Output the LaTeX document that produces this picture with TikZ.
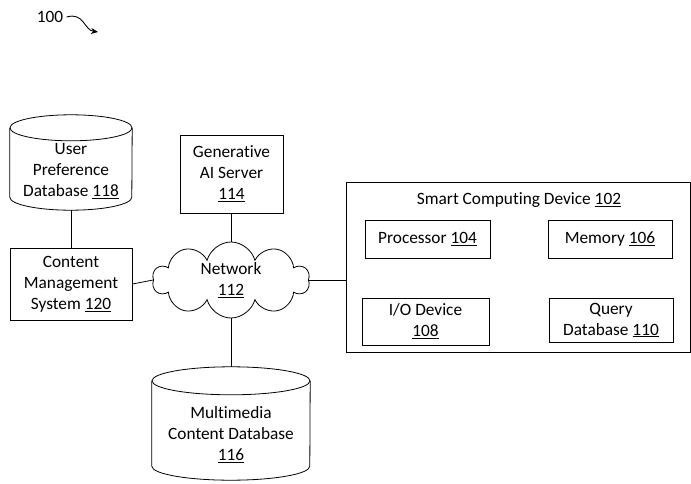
\documentclass[tikz,border=0pt]{standalone}
\usepackage{fontspec}
\setmainfont{Carlito}[Ligatures=NoCommon]
\usepackage{tikz}
\usetikzlibrary{positioning,shapes.geometric,shapes.symbols,arrows.meta}

\begin{document}
\begin{tikzpicture}[x=1pt, y=-1pt,
  every node/.style = {align=center, font=\fontsize{17.3}{21}\selectfont},
  box/.style = {shape=rectangle, draw, line width=0.8pt},
  db/.style = {shape=rectangle, inner sep=0pt},
  wire/.style = {draw, line width=0.8pt}]
    \useasboundingbox (0,0) rectangle (691,484);
    \node (fig) at (50,17) {100};
    \coordinate (figtip) at (98,32);
    \draw[line width=0.9pt, -{Stealth[length=7pt,width=6pt]}] (fig.east) .. controls (84,12) and (84,30) .. (figtip);
    % left column
    \node[db, minimum width=122pt, minimum height=95pt] (updb) at (71,162.5) {};
    \draw[line width=0.8pt] ([yshift=-13pt]updb.north) ellipse [x radius=61pt, y radius=13pt];
    \draw[line width=0.8pt] ([yshift=-13pt]updb.north west) -- ([yshift=13pt]updb.south west) arc [start angle=180, end angle=360, x radius=61pt, y radius=13pt] -- ([yshift=-13pt]updb.north east);
    \node (updbtext) at (71,171) {User\\ Preference\\ Database \underline{118}};
    \node[box, minimum width=122pt, minimum height=72pt] (cms) at (71,284) {Content\\ Management\\ System \underline{120}};
    % middle column
    \node[box, minimum width=103pt, minimum height=78pt] (gen) at (231.5,174) {Generative\\ AI Server\\ \underline{114}};
    \node[cloud, draw, line width=0.8pt, cloud puffs=10, aspect=2, minimum width=157pt, minimum height=76pt, inner sep=0pt] (net) at (231,280) {Network\\ \underline{112}};
    \node[db, minimum width=158pt, minimum height=113pt] (mmdb) at (231,423.5) {};
    \draw[line width=0.8pt] ([yshift=-14pt]mmdb.north) ellipse [x radius=79pt, y radius=14pt];
    \draw[line width=0.8pt] ([yshift=-14pt]mmdb.north west) -- ([yshift=14pt]mmdb.south west) arc [start angle=180, end angle=360, x radius=79pt, y radius=14pt] -- ([yshift=-14pt]mmdb.north east);
    \node (mmdbtext) at (231,435) {Multimedia\\ Content Database\\ \underline{116}};
    % device
    \node[box, minimum width=344pt, minimum height=170pt] (smart) at (518,267) {};
    \node (smarttitle) at (519,200) {Smart Computing Device \underline{102}};
    \node[box, minimum width=125pt, minimum height=38pt] (proc) at (427.5,239) {Processor \underline{104}};
    \node[box, minimum width=124pt, minimum height=38pt] (mem) at (610,239) {Memory \underline{106}};
    \node[box, minimum width=127pt, minimum height=47pt] (io) at (425.5,321.5) {I/O Device\\ \underline{108}};
    \node[box, minimum width=124pt, minimum height=44pt] (query) at (611,320) {Query\\ Database \underline{110}};
    % links
    \draw[wire] (updb.south) -- (cms.north);
    \draw[wire] (cms.east) -- (net.west);
    \draw[wire] (gen.south) -- (gen.south |- net.north);
    \draw[wire] (net.east) -- (net.east -| smart.west);
    \draw[wire] (net.south) -- (mmdb.north);
\end{tikzpicture}
\end{document}
